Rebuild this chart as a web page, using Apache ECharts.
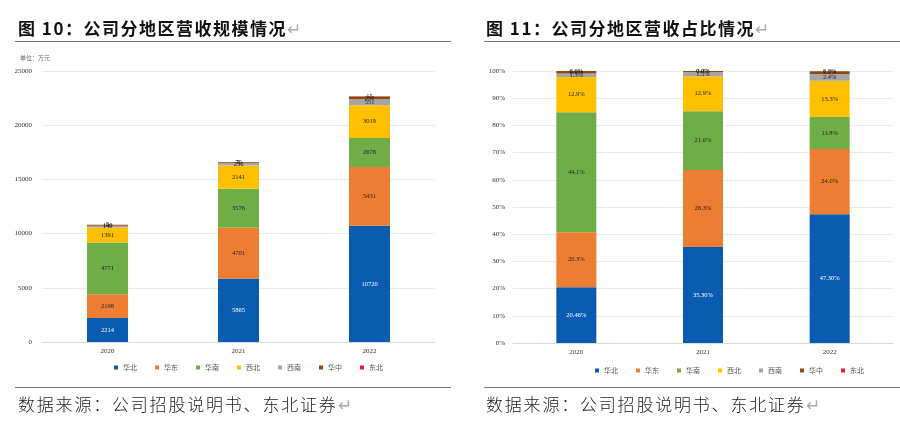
<!DOCTYPE html>
<html>
<head>
<meta charset="utf-8">
<script src="https://cdn.jsdelivr.net/npm/echarts@6/dist/echarts.min.js"></script>
<style>
  html, body { margin: 0; padding: 0; background: #fff; }
  #wrap { position: relative; width: 900px; height: 426px; overflow: hidden; }
  #chart { position: absolute; left: 0; top: 0; width: 900px; height: 426px; }
  .title { position: absolute; top: 15px; font-family: "Noto Sans CJK SC", sans-serif; font-weight: bold;
           font-size: 17px; letter-spacing: 1.5px; color: #111; white-space: nowrap; }
  .src { position: absolute; top: 391px; font-family: "Noto Sans CJK SC", sans-serif; font-weight: 300;
         font-size: 17px; letter-spacing: 1.8px; color: #222; white-space: nowrap; }
  .mark { color: #aaa; font-weight: normal; }
  .rule { position: absolute; height: 0; border-top: 1.5px solid #777; }
  .unit { position: absolute; left: 20px; top: 53px; font-family: "Noto Sans CJK SC", sans-serif;
          font-size: 6px; color: #666; }
</style>
</head>
<body>
<div id="wrap">
  <div id="chart"></div>
  <div class="title" style="left:18px">图 10：公司分地区营收规模情况<span class="mark">↵</span></div>
  <div class="title" style="left:486px">图 11：公司分地区营收占比情况<span class="mark">↵</span></div>
  <div class="rule" style="left:15px;width:436px;top:41px"></div>
  <div class="rule" style="left:484px;width:416px;top:41px"></div>
  <div class="unit">单位：万元</div>
  <div class="rule" style="left:15px;width:436px;top:387px"></div>
  <div class="rule" style="left:484px;width:416px;top:387px"></div>
  <div class="src" style="left:18px">数据来源：公司招股说明书、东北证券<span class="mark">↵</span></div>
  <div class="src" style="left:486px">数据来源：公司招股说明书、东北证券<span class="mark">↵</span></div>
</div>
<script>
// categories
const years = ['2020', '2021', '2022'];
const regions = ['华北', '华东', '华南', '西北', '西南', '华中', '东北'];
const regionColors = ['#0a5cb3', '#ed7d31', '#70ad47', '#ffc000', '#a5a5a5', '#8f4a14', '#e8202a'];

// revenue by region, 万元
const revNorth = [2214, 5865, 10720];
const revEast = [2198, 4701, 5431];
const revSouth = [4771, 3576, 2678];
const revNorthwest = [1391, 2141, 3019];
const revSouthwest = [140, 256, 551];
const revCentral = [100, 70, 250];
const revNortheast = [5, 5, 15];

// share by region, %
const pctNorth = [20.46, 35.30, 47.30];
const pctEast = [20.3, 28.3, 24.0];
const pctSouth = [44.1, 21.6, 11.8];
const pctNorthwest = [12.9, 12.9, 13.3];
const pctSouthwest = [1.3, 1.5, 2.4];
const pctCentral = [0.9, 0.4, 1.1];
const pctNortheast = [0.0, 0.0, 0.0];

const revData = [revNorth, revEast, revSouth, revNorthwest, revSouthwest, revCentral, revNortheast];
const pctData = [pctNorth, pctEast, pctSouth, pctNorthwest, pctSouthwest, pctCentral, pctNortheast];

const serif = '"Liberation Serif", "Times New Roman", serif';
const cjk = '"Noto Sans CJK SC", sans-serif';

let chart = echarts.init(document.getElementById('chart'));

function labelStyle(i) {
  return {
    show: true,
    position: 'inside',
    fontFamily: serif,
    fontSize: 6.5,
    color: i === 0 ? '#fff' : '#222'
  };
}

let series = [];
regions.forEach(function (name, i) {
  series.push({
    name: name,
    type: 'bar',
    stack: 'rev',
    xAxisIndex: 0,
    yAxisIndex: 0,
    barWidth: 41,
    itemStyle: { color: regionColors[i] },
    label: labelStyle(i),
    data: revData[i]
  });
});
regions.forEach(function (name, i) {
  let lbl = labelStyle(i);
  lbl.formatter = function (p) {
    return (i === 0 ? p.value.toFixed(2) : p.value.toFixed(1)) + '%';
  };
  series.push({
    name: name,
    type: 'bar',
    stack: 'pct',
    xAxisIndex: 1,
    yAxisIndex: 1,
    barWidth: 40,
    itemStyle: { color: regionColors[i] },
    label: lbl,
    data: pctData[i]
  });
});

function xAxisCfg(idx) {
  return {
    type: 'category',
    gridIndex: idx,
    data: years,
    axisLine: { lineStyle: { color: '#d9d9d9' } },
    axisTick: { show: false },
    axisLabel: { fontFamily: serif, fontSize: 7, color: '#333', margin: 6 }
  };
}

let legendBase = {
  data: regions,
  icon: 'rect',
  itemWidth: 4,
  itemHeight: 4,
  itemGap: 18,
  selectedMode: false,
  textStyle: { fontFamily: cjk, fontSize: 7, color: '#555' }
};

chart.setOption({
  animation: false,
  grid: [
    { left: 42, right: 465, top: 71, bottom: 84 },
    { left: 513, right: 7, top: 71, bottom: 83 }
  ],
  legend: [
    Object.assign({ left: 109, top: 359 }, legendBase),
    Object.assign({ left: 590, top: 362 }, legendBase)
  ],
  xAxis: [xAxisCfg(0), xAxisCfg(1)],
  yAxis: [
    {
      type: 'value',
      gridIndex: 0,
      min: 0,
      max: 25000,
      interval: 5000,
      axisLabel: { fontFamily: serif, fontSize: 7, color: '#333', margin: 10, formatter: function (v) { return String(v); } },
      splitLine: { lineStyle: { color: '#ebebeb' } }
    },
    {
      type: 'value',
      gridIndex: 1,
      min: 0,
      max: 100,
      interval: 10,
      axisLabel: { fontFamily: serif, fontSize: 7, color: '#333', margin: 8, formatter: '{value}%' },
      splitLine: { lineStyle: { color: '#ebebeb' } }
    }
  ],
  series: series
});
</script>
</body>
</html>
